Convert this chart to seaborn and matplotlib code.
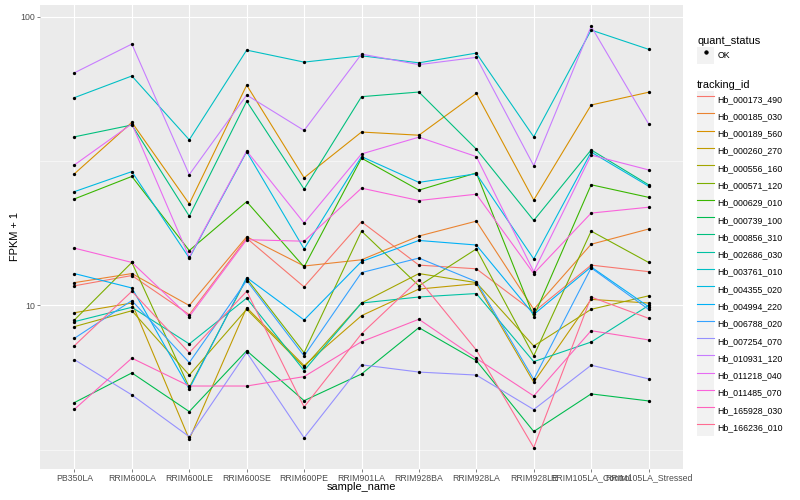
import matplotlib
matplotlib.use("Agg")
import numpy as np
import pandas as pd
import matplotlib.pyplot as plt
from matplotlib.lines import Line2D
from matplotlib.patches import Patch
from matplotlib.legend_handler import HandlerTuple
from matplotlib.ticker import FixedLocator, NullFormatter
import seaborn as sns

samples = ["PB350LA", "RRIM600LA", "RRIM600LE", "RRIM600SE", "RRIM600PE",
           "RRIM901LA", "RRIM928BA", "RRIM928LA", "RRIM928LE",
           "RRIM105LA_Control", "RRIM105LA_Stressed"]

tracking_ids = ["Hb_000173_490", "Hb_000185_030", "Hb_000189_560", "Hb_000260_270",
                "Hb_000556_160", "Hb_000571_120", "Hb_000629_010", "Hb_000739_100",
                "Hb_000856_310", "Hb_002686_030", "Hb_003761_010", "Hb_004355_020",
                "Hb_004994_220", "Hb_006788_020", "Hb_007254_070", "Hb_010931_120",
                "Hb_011218_040", "Hb_011485_070", "Hb_165928_030", "Hb_166236_010"]

hue_colors = ["#F8766D", "#EA8331", "#D89000", "#C09B00", "#A3A500", "#7CAE00",
              "#39B600", "#00BB4E", "#00BF7D", "#00C1A3", "#00BFC4", "#00BAE0",
              "#00B0F6", "#35A2FF", "#9590FF", "#C77CFF", "#E76BF3", "#FA62DB",
              "#FF62BC", "#FF6C91"]

# FPKM + 1 per sample (in the order of `samples`)
hb_000173_490 = [11.7, 12.7, 9.3, 17.1, 11.6, 19.5, 13.8, 13.4, 9.5, 13.8, 13.1]
hb_000185_030 = [12.0, 12.9, 10.0, 17.3, 13.7, 14.4, 17.4, 19.6, 9.7, 16.3, 18.4]
hb_000189_560 = [28.6, 43.1, 22.5, 58.0, 27.7, 39.9, 38.9, 54.3, 23.2, 49.5, 54.8]
hb_000260_270 = [9.44, 10.2, 3.44, 9.83, 6.19, 9.22, 11.4, 11.9, 5.42, 10.5, 10.2]
hb_000556_160 = [8.45, 9.59, 5.74, 9.70, 6.12, 10.2, 12.9, 12.0, 7.24, 9.70, 10.8]
hb_000571_120 = [8.91, 14.1, 5.2, 12.4, 6.86, 18.1, 11.7, 15.7, 6.69, 18.1, 14.1]
hb_000629_010 = [23.4, 28.0, 15.5, 22.9, 13.6, 32.4, 25.1, 28.8, 9.15, 26.2, 23.7]
hb_000739_100 = [4.61, 5.84, 4.29, 6.97, 4.68, 5.79, 8.38, 6.44, 3.66, 4.94, 4.67]
hb_000856_310 = [38.4, 42.2, 20.4, 51.0, 25.3, 52.9, 54.9, 34.8, 19.7, 34.6, 26.2]
hb_002686_030 = [8.79, 9.86, 7.36, 10.6, 5.95, 10.2, 10.7, 11.0, 6.39, 7.47, 10.0]
hb_003761_010 = [52.5, 62.4, 37.5, 76.7, 69.7, 73.3, 69.3, 74.9, 38.4, 90.0, 77.2]
hb_004355_020 = [24.8, 29.1, 14.6, 34.1, 15.7, 32.8, 26.7, 28.6, 14.5, 34.0, 25.9]
hb_004994_220 = [12.9, 11.5, 5.14, 12.5, 8.91, 14.2, 16.8, 16.2, 9.31, 13.6, 9.90]
hb_006788_020 = [7.70, 10.4, 6.34, 12.2, 6.69, 13.0, 14.6, 12.1, 5.55, 13.5, 9.70]
hb_007254_070 = [6.49, 4.90, 3.51, 6.88, 3.48, 6.23, 5.88, 5.74, 4.36, 6.21, 5.57]
hb_010931_120 = [64.0, 80.5, 28.4, 53.6, 40.4, 74.3, 68.3, 72.4, 30.5, 92.7, 42.6]
hb_011218_040 = [30.7, 42.6, 14.7, 34.3, 19.3, 33.5, 38.3, 32.8, 13.1, 33.2, 29.5]
hb_011485_070 = [15.8, 14.1, 9.15, 16.9, 16.7, 25.5, 23.1, 24.3, 12.9, 20.9, 21.9]
hb_165928_030 = [4.37, 6.57, 5.26, 5.26, 5.67, 7.49, 8.96, 6.56, 4.86, 8.18, 7.60]
hb_166236_010 = [7.26, 11.2, 6.86, 11.2, 4.45, 7.98, 12.3, 7.01, 3.22, 10.7, 9.03]

series = [hb_000173_490, hb_000185_030, hb_000189_560, hb_000260_270, hb_000556_160,
          hb_000571_120, hb_000629_010, hb_000739_100, hb_000856_310, hb_002686_030,
          hb_003761_010, hb_004355_020, hb_004994_220, hb_006788_020, hb_007254_070,
          hb_010931_120, hb_011218_040, hb_011485_070, hb_165928_030, hb_166236_010]

rows = []
for tid, vals in zip(tracking_ids, series):
    for s, v in zip(samples, vals):
        rows.append({"tracking_id": tid, "sample_name": s, "fpkm": v, "quant_status": "OK"})
df = pd.DataFrame(rows)

W, H = 800, 500
fig = plt.figure(figsize=(W / 72, H / 72), dpi=72)
ax_left, ax_right, ax_top, ax_bot = 40, 683, 5.3, 468.6
ax = fig.add_axes([ax_left / W, 1 - ax_bot / H, (ax_right - ax_left) / W, (ax_bot - ax_top) / H])
ax.set_facecolor("#EBEBEB")

palette = dict(zip(tracking_ids, hue_colors))
sns.lineplot(data=df, x="sample_name", y="fpkm", hue="tracking_id", hue_order=tracking_ids,
             palette=palette, estimator=None, lw=1.1, legend=False, ax=ax, zorder=2)
sns.scatterplot(data=df, x="sample_name", y="fpkm", color="black", s=11, marker="o",
                linewidth=0, legend=False, ax=ax, zorder=3)

ax.set_yscale("log")
lo, hi = np.log10(df["fpkm"].min()), np.log10(df["fpkm"].max())
pad = 0.05 * (hi - lo)
ax.set_ylim(10 ** (lo - pad), 10 ** (hi + pad))
ax.set_xlim(-0.6, len(samples) - 0.4)

ax.yaxis.set_major_locator(FixedLocator([10, 100]))
ax.set_yticklabels(["10", "100"])
ax.yaxis.set_minor_locator(FixedLocator([10 ** 0.5, 10 ** 1.5]))
ax.yaxis.set_minor_formatter(NullFormatter())

ax.grid(which="major", color="white", lw=1.1)
ax.grid(which="minor", axis="y", color="white", lw=0.55)
ax.set_axisbelow(True)
for sp in ax.spines.values():
    sp.set_visible(False)

ax.tick_params(which="major", length=2.75, width=0.6, color="#333333", pad=2.2,
               labelsize=8.8, labelcolor="#4D4D4D")
ax.tick_params(which="minor", length=0)
for lab in ax.get_xticklabels() + ax.get_yticklabels():
    lab.set_fontfamily("Liberation Sans")

ax.set_xlabel("sample_name", fontsize=11, family="Liberation Sans", labelpad=-1)
ax.set_ylabel("FPKM + 1", fontsize=11, family="Liberation Sans", labelpad=0)

fs = 8.8
key_px = 17.28
# matplotlib's legend row height = fs*(0.65*h + 0.245); solve for a 17.28px row
key_h = (key_px / fs - 0.245) / 0.65
common = dict(frameon=False, fontsize=fs, title_fontsize=11, handlelength=key_px / fs,
              handleheight=key_h, handletextpad=0.35, borderpad=0, borderaxespad=0,
              labelspacing=0, alignment="left", loc="upper left",
              prop={"family": "Liberation Sans", "size": fs},
              handler_map={tuple: HandlerTuple(ndivide=1)})

h1 = [(Patch(facecolor="#F2F2F2", edgecolor="none"),
       Line2D([], [], ls="none", marker="o", color="black", markersize=3.3))]
leg1 = fig.legend(h1, ["OK"], title="quant_status",
                  bbox_to_anchor=(697 / W, 1 - 36.5 / H), **common)
leg1.get_title().set_fontfamily("Liberation Sans")

h2 = [(Patch(facecolor="#F2F2F2", edgecolor="none"), Line2D([], [], color=c, lw=1.1))
      for c in hue_colors]
leg2 = fig.legend(h2, tracking_ids, title="tracking_id",
                  bbox_to_anchor=(697 / W, 1 - 80.5 / H), **common)
leg2.get_title().set_fontfamily("Liberation Sans")

fig.savefig("out.png", dpi=72, facecolor="white")
